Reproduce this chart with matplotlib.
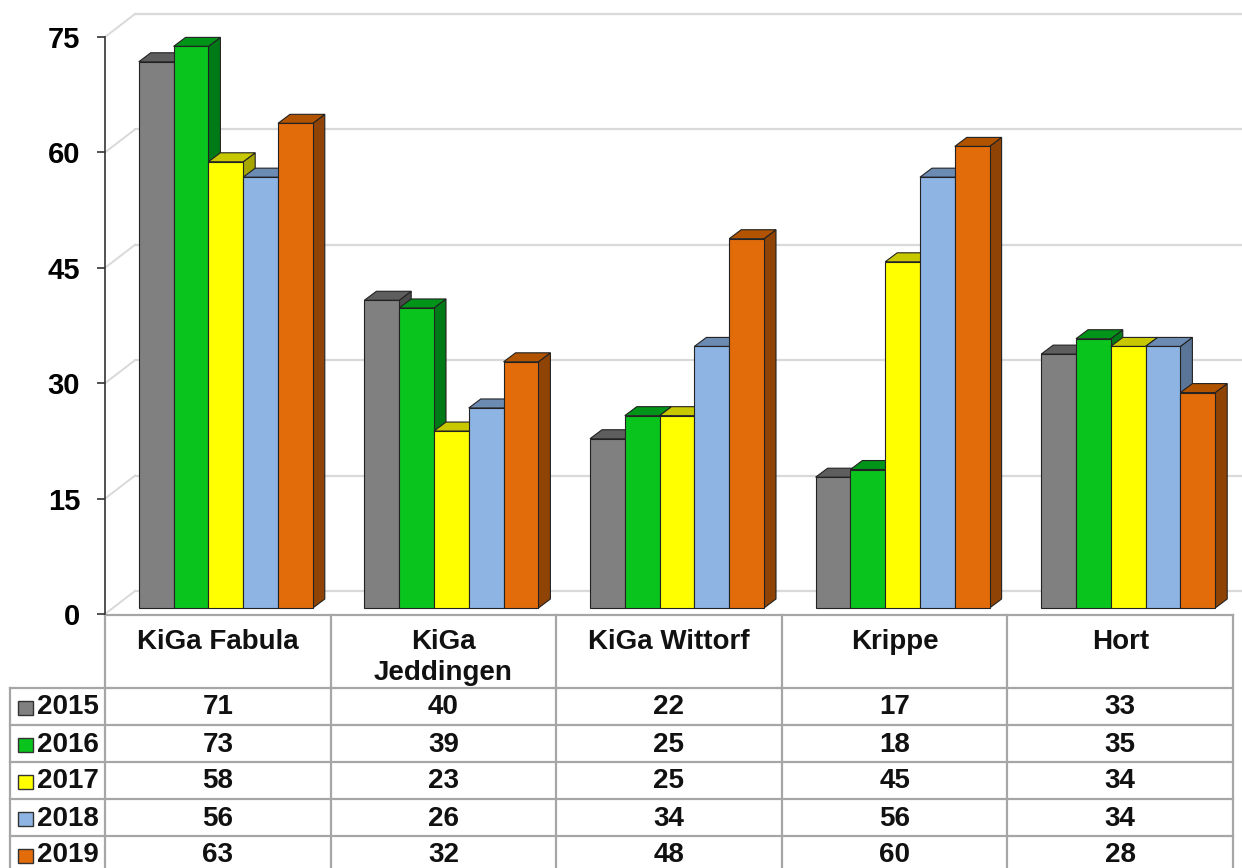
import numpy as np
import matplotlib
matplotlib.use("Agg")
import matplotlib.pyplot as plt
from matplotlib.patches import Polygon, Rectangle

plt.rcParams['font.family'] = ['Liberation Sans', 'DejaVu Sans']
plt.rcParams['font.weight'] = 'bold'

# Daten
kategorien = ["KiGa Fabula", "KiGa\nJeddingen", "KiGa Wittorf", "Krippe", "Hort"]
jahre = ["2015", "2016", "2017", "2018", "2019"]
werte_2015 = [71, 40, 22, 17, 33]
werte_2016 = [73, 39, 25, 18, 35]
werte_2017 = [58, 23, 25, 45, 34]
werte_2018 = [56, 26, 34, 56, 34]
werte_2019 = [63, 32, 48, 60, 28]
yticks = [0, 15, 30, 45, 60, 75]

serien = [werte_2015, werte_2016, werte_2017, werte_2018, werte_2019]
# Farben: Vorderseite, Oberseite, Seite
farben = [("#808080", "#5e5e5e", "#4a4a4a"),
          ("#0ac41e", "#009418", "#007a16"),
          ("#ffff00", "#c8c800", "#a6a600"),
          ("#8db4e2", "#6c8bb2", "#5a7597"),
          ("#e36c0a", "#b25300", "#8f4304")]

W, H = 1242, 868
fig = plt.figure(figsize=(W / 100, H / 100), dpi=100)

# Achsenbereich in Pixeln (links, rechts, y0, y75)
px_l, px_r, px_0, px_75 = 105, 1233, 614, 37
ax = fig.add_axes([px_l / W, (H - px_0) / H, (px_r - px_l) / W, (px_0 - px_75) / H])
ax.set_xlim(0, 5)
ax.set_ylim(0, 75)

ppx = (px_r - px_l) / 5.0       # Pixel pro Kategorie
ppy = (px_0 - px_75) / 75.0     # Pixel pro Einheit

# 3D-Versatz
wall_dx, wall_dy = 30 / ppx, 23 / ppy
front_dx, front_dy = 8 / ppx, 6 / ppy
bar_dx, bar_dy = 12 / ppx, 9 / ppy
bw = 34.8 / ppx

grid_c = "#d9d9d9"
x_end = (W - px_l) / ppx
for t in yticks:
    ax.plot([wall_dx, x_end], [t + wall_dy, t + wall_dy], color=grid_c, lw=1.6, zorder=1, clip_on=False)
    ax.plot([0, wall_dx], [t, t + wall_dy], color=grid_c, lw=1.4, zorder=1, clip_on=False)

# Balken
n = len(serien)
for j in range(len(kategorien)):
    start = j + 0.5 + front_dx - n * bw / 2
    for i, vals in enumerate(serien):
        v = vals[j]
        L = start + i * bw
        R = L + bw
        b = front_dy
        fc, tc, sc = farben[i]
        z = 3 + i
        side = Polygon([(R, b), (R + bar_dx, b + bar_dy), (R + bar_dx, b + v + bar_dy), (R, b + v)],
                       closed=True, facecolor=sc, edgecolor="#222222", lw=0.8, zorder=z, clip_on=False)
        top = Polygon([(L, b + v), (L + bar_dx, b + v + bar_dy), (R + bar_dx, b + v + bar_dy), (R, b + v)],
                      closed=True, facecolor=tc, edgecolor="#222222", lw=0.8, zorder=z, clip_on=False)
        ax.add_patch(side)
        ax.add_patch(top)
        ax.bar(L, v, width=bw, bottom=b, align="edge", color=fc, edgecolor="#222222",
               lw=0.8, zorder=z + 0.5, clip_on=False)

for s in ["top", "right", "bottom"]:
    ax.spines[s].set_visible(False)
ax.spines["left"].set_color("#333333")
ax.spines["left"].set_linewidth(1.2)
ax.set_xticks([])
ax.set_yticks(yticks)
ax.set_yticklabels([str(t) for t in yticks], fontsize=21, fontweight="bold")
ax.tick_params(axis="y", direction="out", length=6, width=1.2, color="#333333", pad=12)
ax.patch.set_alpha(0)

# Datentabelle
tab = fig.add_axes([0, 0, 1, 1], zorder=-1)
tab.set_xlim(0, W)
tab.set_ylim(H, 0)
tab.axis("off")
tab.patch.set_alpha(0)

lc = "#a6a6a6"
cols = [px_l + k * ppx for k in range(6)]
head_top, head_bot = 615, 688
row_h = 37
rows = [head_bot + k * row_h for k in range(6)]
left_x = 10

tab.plot([cols[0], cols[-1]], [head_top, head_top], color=lc, lw=1.6)
for c in cols:
    tab.plot([c, c], [head_top, H + 5], color=lc, lw=1.6)
tab.plot([left_x, left_x], [head_bot, H + 5], color=lc, lw=1.6)
for r in rows:
    tab.plot([left_x, cols[-1]], [r, r], color=lc, lw=1.6)

fs = 20
for j, name in enumerate(kategorien):
    cx = (cols[j] + cols[j + 1]) / 2
    tab.text(cx, 629, name, ha="center", va="top", fontsize=fs, fontweight="bold",
             linespacing=1.25, color="#111111")

for i, vals in enumerate(serien):
    cy = rows[i] + row_h / 2 + 1
    tab.add_patch(Rectangle((18, cy - 7), 15, 14, facecolor=farben[i][0], edgecolor="#333333", lw=1))
    tab.text(37, cy, jahre[i], ha="left", va="center", fontsize=fs, fontweight="bold", color="#111111")
    for j, v in enumerate(vals):
        cx = (cols[j] + cols[j + 1]) / 2
        tab.text(cx, cy, str(v), ha="center", va="center", fontsize=fs, fontweight="bold", color="#111111")

fig.savefig("out.png", dpi=100)
